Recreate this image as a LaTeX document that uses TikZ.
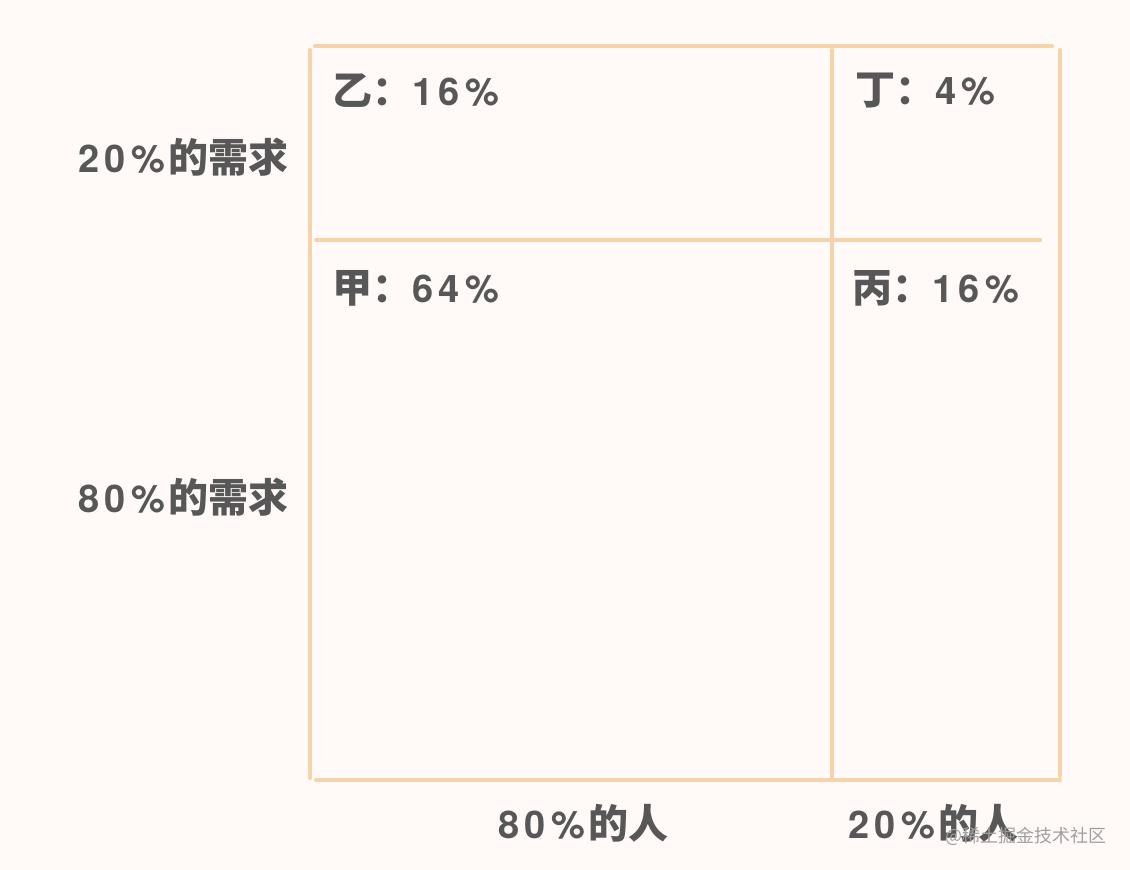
\documentclass[tikz,border=0pt]{standalone}
\usepackage{fontspec}
\setmainfont[LetterSpace=14]{TeX Gyre Heros}
\newfontfamily\cjk{Noto Sans CJK SC}
\newcommand\zh[1]{{\cjk\bfseries\fontsize{40}{44}\selectfont #1}}
\usetikzlibrary{positioning}
\definecolor{bgpink}{HTML}{FFFAF8}
\definecolor{lineorange}{HTML}{F4D4A8}
\definecolor{txtgray}{HTML}{575757}
\definecolor{markgray}{HTML}{A0A0A0}

\begin{document}
\begin{tikzpicture}[x=1pt, y=-1pt,
  grid/.style={draw=lineorange, line width=4pt, line cap=round},
  lbl/.style={text=txtgray, font=\bfseries\fontsize{38}{44}\selectfont, anchor=west, inner sep=0pt}]

  % Background
  \fill[bgpink] (0,0) rectangle (1130,870);
  \useasboundingbox (0,0) rectangle (1130,870);

  % Corners of the grid
  \coordinate (T1) at (315,46);
  \coordinate (T2) at (1052,46);
  \coordinate (L1) at (310,50);
  \coordinate (L2) at (310,778);
  \coordinate (B1) at (316,780);
  \coordinate (B2) at (1060,780);
  \coordinate (R1) at (1060,50);
  \coordinate (R2) at (1060,776);
  \coordinate (V1) at (832,50);
  \coordinate (V2) at (832,778);
  \coordinate (H1) at (316,240);
  \coordinate (H2) at (1040,240);

  % Grid lines
  \draw[grid] (T1) -- (T2);
  \draw[grid] (L1) -- (L2);
  \draw[grid] (B1) -- (B2);
  \draw[grid] (R1) -- (R2);
  \draw[grid] (V1) -- (V2);
  \draw[grid] (H1) -- (H2);

  % Cells
  \node[lbl] (yi) at (332,91) {\zh{乙：}16\%};
  \node[lbl] (ding) at (855,91) {\zh{丁：}4\%};
  \node[lbl] (jia) at (332,288) {\zh{甲：}64\%};
  \node[lbl] (bing) at (852,288) {\zh{丙：}16\%};

  % Row labels
  \node[lbl] (need20) at (78,157) {20\%\hspace{4pt}\zh{的需求}};
  \node[lbl] (need80) at (78,497) {80\%\hspace{4pt}\zh{的需求}};

  % Column labels
  \node[lbl] (ppl80) at (498,823) {80\%\hspace{4pt}\zh{的人}};
  \node[lbl] (ppl20) at (848,823) {20\%\hspace{4pt}\zh{的人}};

  % Watermark
  \node[anchor=west, inner sep=0pt, text=markgray, font=\cjk\fontsize{18}{20}\selectfont] (mark) at (945,836) {@稀土掘金技术社区};

\end{tikzpicture}
\end{document}
